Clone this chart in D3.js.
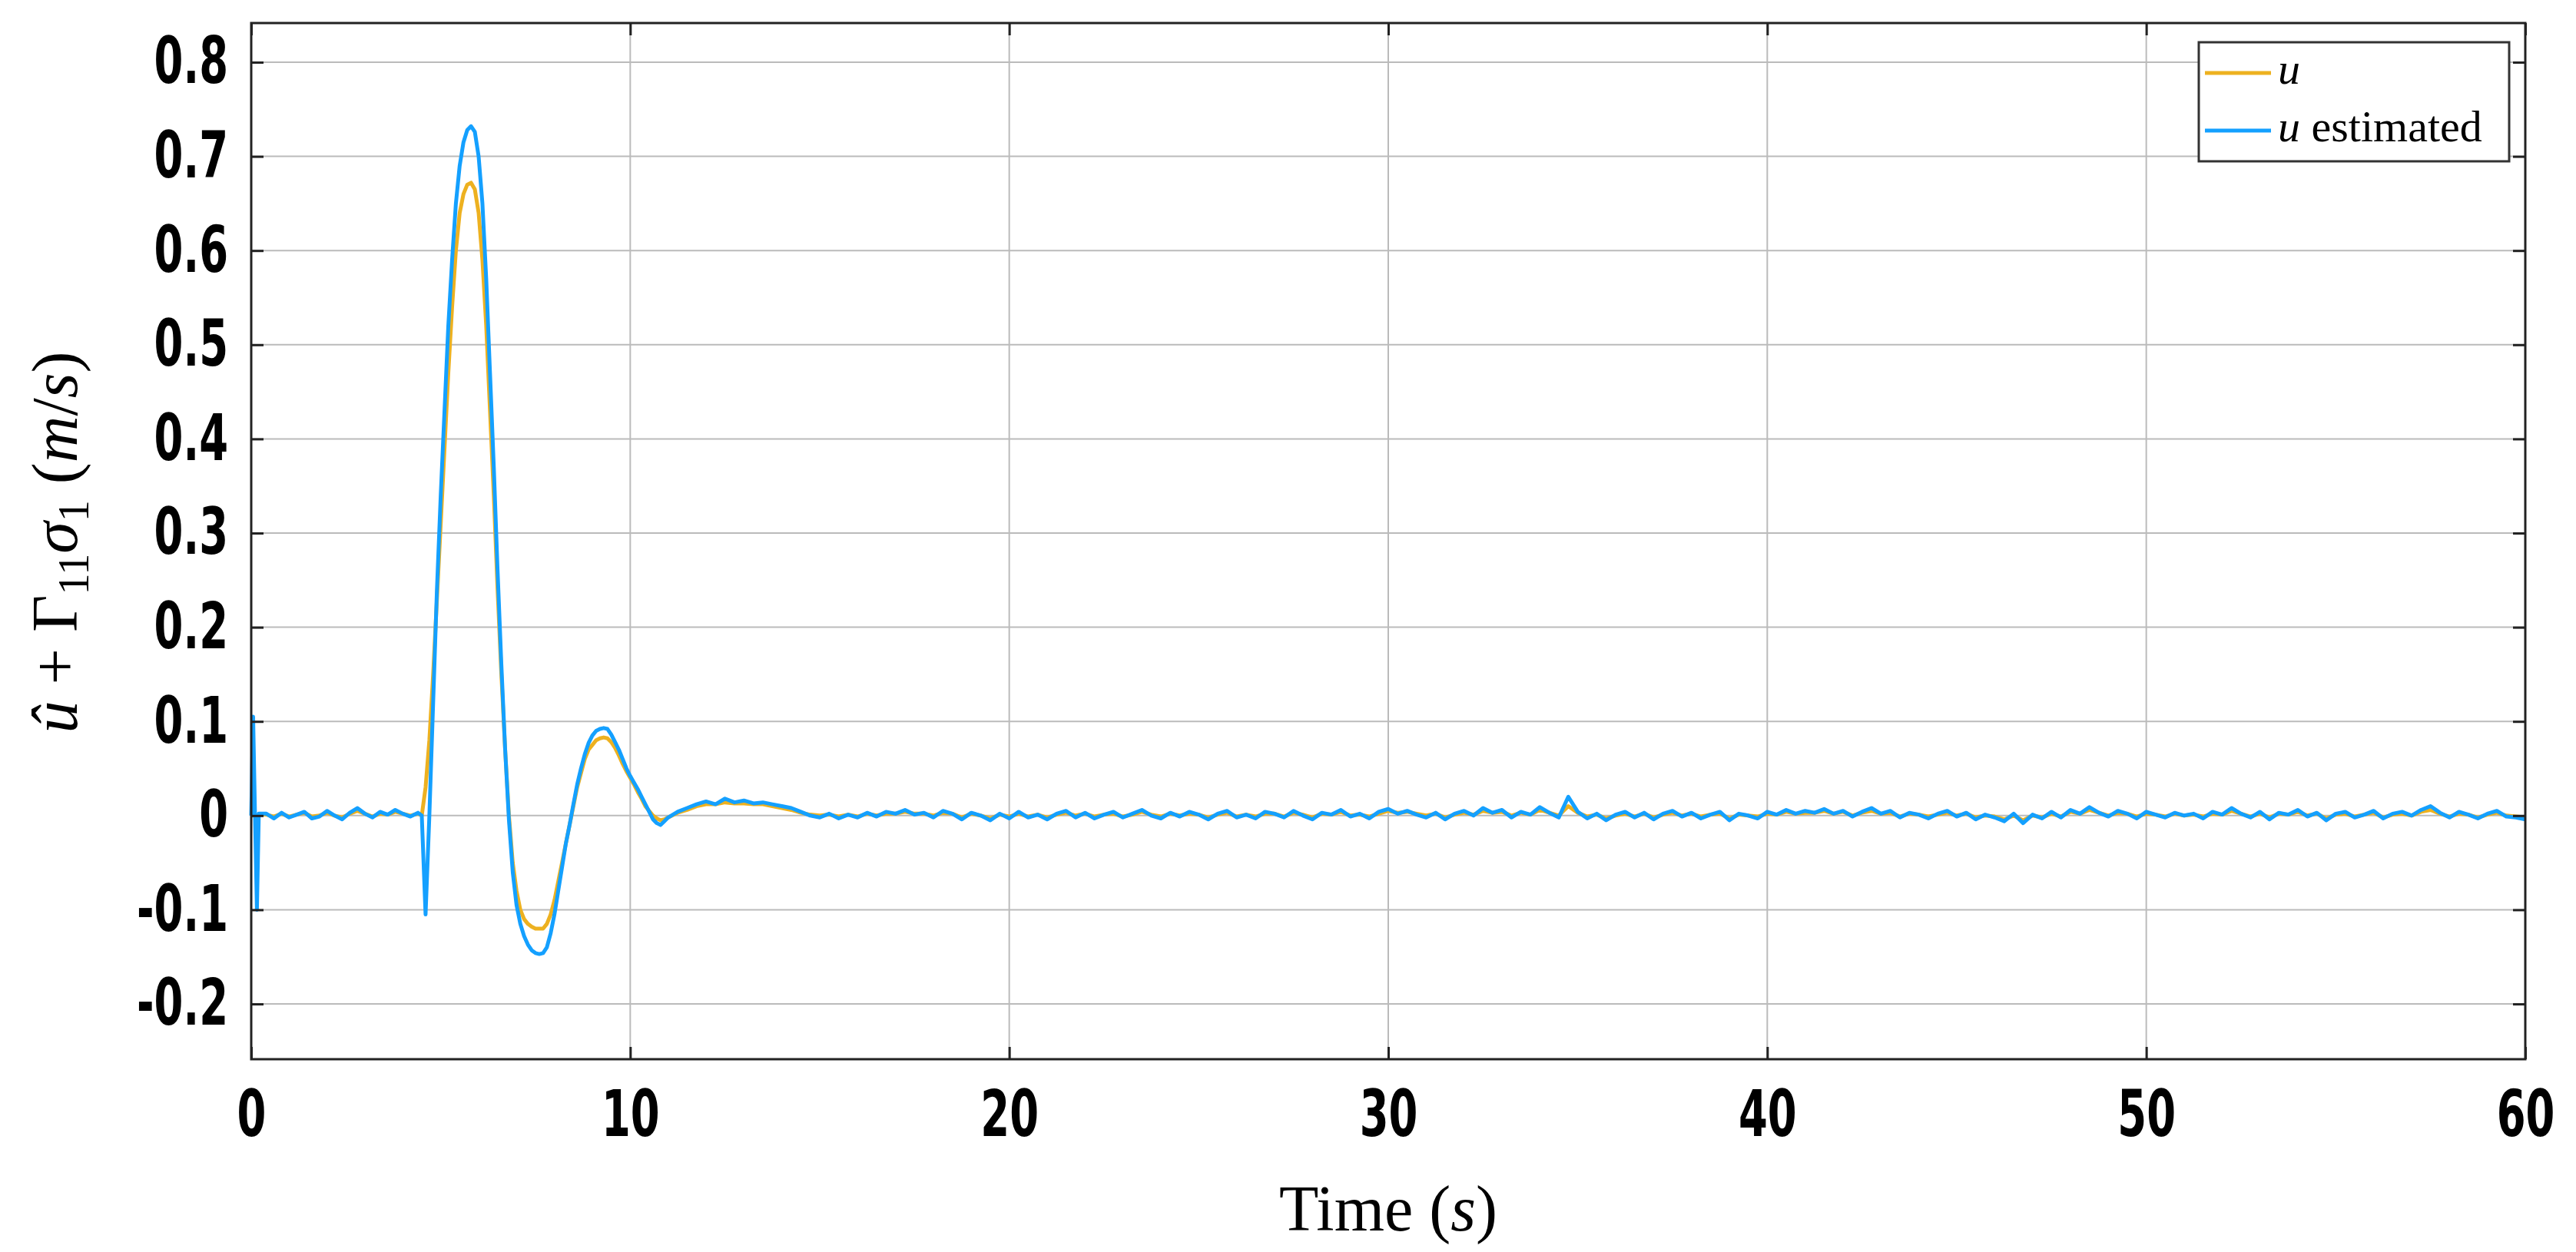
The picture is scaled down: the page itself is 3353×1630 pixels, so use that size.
<!DOCTYPE html>
<html><head><meta charset="utf-8">
<script src="https://cdnjs.cloudflare.com/ajax/libs/d3/7.8.5/d3.min.js"></script>
<style>body{margin:0;background:#fff}</style></head>
<body><svg id="c" width="3353" height="1630"></svg>
<script>
const xTicks=[0,10,20,30,40,50,60];
const yTicks=[-0.2,-0.1,0,0.1,0.2,0.3,0.4,0.5,0.6,0.7,0.8];
const yTickLabels=["-0.2","-0.1","0","0.1","0.2","0.3","0.4","0.5","0.6","0.7","0.8"];
const seriesNames=["u","u estimated"];
const tStart=[0,0.05,0.1,0.15,0.2];
const uStart=[0,0,0,0,0.001];
const ueStart=[0,0.105,0,-0.1,0.002];
const uPre=[.001,-.001,.002,-.001,.001,.003,-.001,.000,.003,.000,-.002,.002,.005,.002,-.001,.002,.001,.004,.002,.000,.002];
const uePre=[.002,-.003,.003,-.002,.001,.004,-.003,-.001,.005,.000,-.004,.003,.008,.002,-.002,.004,.001,.006,.002,-.001,.003];
const uTrans=[0,.03,.08,.15,.23,.31,.39,.47,.54,.60,.64,.66,.67,.672,.665,.64,.59,.52,.43,.34,.24,.15,.07,0,-.05,-.08,-.10,-.11,-.115,-.118,-.12,-.12,-.12,-.115,-.105,-.09,-.07,-.05,-.03,-.01,.01,.03,.045,.06,.07,.075,.08,.082,.083,.082,.078,.072,.064,.055,.047,.04,.033,.025,.018,.01,.005,0,-.003,-.005,-.004,-.002];
const ueTrans=[0,-.105,0,.12,.24,.34,.43,.52,.59,.65,.69,.715,.728,.732,.726,.70,.65,.57,.47,.37,.26,.16,.07,-.005,-.06,-.095,-.115,-.128,-.137,-.143,-.146,-.147,-.146,-.14,-.125,-.105,-.08,-.055,-.03,-.01,.012,.033,.05,.065,.077,.085,.09,.092,.093,.092,.086,.078,.07,.06,.05,.042,.035,.028,.02,.012,.004,-.004,-.008,-.01,-.006,-.002];
const uTail=[.003,.006,.010,.012,.012,.014,.013,.013,.012,.012,.010,.008,.006,.003,.001,.000,.001,-.001,.001,-.001,
.002,.000,.002,.002,.004,.002,.002,.000,.003,.002,-.002,.002,.000,-.003,.001,-.001,.002,-.001,.001,-.002,
.001,.003,.000,.002,-.001,.001,.002,-.001,.001,.004,.001,-.001,.002,.000,.002,.001,-.002,.001,.003,-.001,
.001,-.001,.002,.002,-.001,.003,.001,-.002,.002,.001,.004,.000,.001,-.001,.002,.005,.003,.004,.002,.000,
.002,-.002,.001,.003,.001,.005,.003,.004,.000,.003,.001,.006,.003,.000,.010,.003,-.001,.001,-.003,.000,
.002,-.001,.002,-.002,.001,.003,.000,.002,-.001,.001,.002,-.003,.001,.000,-.001,.002,.001,.004,.002,.003,
.003,.005,.002,.004,.000,.003,.005,.002,.003,-.001,.002,.001,-.001,.001,.003,.000,.002,-.002,.000,-.001,
-.004,.000,-.005,.000,-.002,.002,-.001,.004,.002,.006,.003,.000,.003,.002,-.001,.002,.001,-.001,.002,.000,
.001,-.001,.002,.001,.005,.002,-.001,.002,-.002,.002,.001,.004,.000,.002,-.003,.001,.002,-.001,.001,.003,
-.002,.001,.002,.000,.004,.006,.002,-.001,.002,.001,-.002,.001,.003,.000,-.001,-.002];
const ueTail=[.004,.008,.012,.015,.012,.018,.014,.016,.013,.014,.012,.010,.008,.004,.000,-.002,.002,-.003,.001,-.002,
.003,-.001,.004,.002,.006,.001,.003,-.002,.005,.002,-.004,.003,.000,-.005,.002,-.003,.004,-.002,.001,-.004,
.002,.005,-.002,.003,-.003,.001,.004,-.002,.002,.006,.000,-.003,.003,-.001,.004,.001,-.004,.002,.005,-.002,
.001,-.003,.004,.002,-.002,.005,.000,-.004,.003,.001,.006,-.001,.002,-.003,.004,.007,.002,.005,.001,-.002,
.003,-.004,.002,.005,.000,.008,.003,.006,-.002,.004,.001,.009,.003,-.002,.020,.004,-.003,.002,-.005,.001,
.004,-.002,.003,-.004,.002,.005,-.001,.003,-.003,.001,.004,-.005,.002,.000,-.003,.004,.001,.006,.002,.005,
.003,.007,.002,.005,-.001,.004,.008,.002,.005,-.002,.003,.001,-.003,.002,.005,-.001,.003,-.004,.001,-.002,
-.006,.002,-.008,.001,-.003,.004,-.002,.006,.002,.009,.003,-.001,.005,.002,-.003,.004,.001,-.002,.003,.000,
.002,-.003,.004,.001,.008,.002,-.002,.004,-.004,.003,.001,.006,-.001,.003,-.005,.002,.004,-.002,.001,.005,
-.003,.002,.004,.000,.006,.010,.003,-.002,.004,.001,-.003,.002,.005,-.001,-.002,-.004];

const tPre=uPre.map((d,i)=>+(0.4+0.2*i).toFixed(2));
const tTrans=uTrans.map((d,i)=>+(4.5+0.1*i).toFixed(2));
const tTail=uTail.map((d,i)=>+(11.25+0.25*i).toFixed(2));
const T=[...tStart,...tPre,...tTrans,...tTail];
const U=[...uStart,...uPre,...uTrans,...uTail];
const UE=[...ueStart,...uePre,...ueTrans,...ueTail];

const L=327,R=3287,Tp=30,B=1379;
const x=d3.scaleLinear().domain([0,60]).range([L,R]);
const y=d3.scaleLinear().domain([-0.2587,0.8416]).range([B,Tp]);
const svg=d3.select("#c");
const g=svg.append("g");
g.selectAll(".gx").data(xTicks).enter().append("line").attr("x1",d=>x(d)).attr("x2",d=>x(d)).attr("y1",Tp).attr("y2",B).attr("stroke","#bbb").attr("stroke-width",2);
g.selectAll(".gy").data(yTicks).enter().append("line").attr("y1",d=>y(d)).attr("y2",d=>y(d)).attr("x1",L).attr("x2",R).attr("stroke","#bbb").attr("stroke-width",2);
const line=(arr)=>d3.line().x((d,i)=>x(T[i])).y((d,i)=>y(arr[i]))(arr);
g.append("path").attr("d",line(U)).attr("fill","none").attr("stroke","#EDB120").attr("stroke-width",5).attr("stroke-linejoin","round");
g.append("path").attr("d",line(UE)).attr("fill","none").attr("stroke","#14A0FF").attr("stroke-width",5).attr("stroke-linejoin","round");
const fnt="'DejaVu Sans Condensed','Roboto',sans-serif";
const sx=0.72;
const ax=svg.append("g").attr("transform",`translate(0,${B})`).call(d3.axisBottom(x).tickValues(xTicks).tickSize(-16).tickPadding(40).tickFormat(d3.format("d")));
const ay=svg.append("g").attr("transform",`translate(${L},0)`).call(d3.axisLeft(y).tickValues(yTicks).tickSize(-16).tickPadding(22/sx).tickFormat((d,i)=>yTickLabels[i]));
[ax,ay].forEach(a=>{a.select(".domain").remove();a.selectAll("line").attr("stroke","#222").attr("stroke-width",3);
 a.selectAll("text").attr("font-family",fnt).attr("font-weight","bold").attr("font-size",84).attr("fill","#000").attr("transform",`scale(${sx},1)`);});
ay.selectAll("text").attr("x",-30/sx);
svg.append("g").attr("transform",`translate(${R},0)`).call(d3.axisRight(y).tickValues(yTicks).tickSize(-16).tickFormat("")).call(a=>{a.select(".domain").remove();a.selectAll("line").attr("stroke","#222").attr("stroke-width",3);});
svg.append("g").attr("transform",`translate(0,${Tp})`).call(d3.axisTop(x).tickValues(xTicks).tickSize(-16).tickFormat("")).call(a=>{a.select(".domain").remove();a.selectAll("line").attr("stroke","#222").attr("stroke-width",3);});
svg.append("rect").attr("x",L).attr("y",Tp).attr("width",R-L).attr("height",B-Tp).attr("fill","none").attr("stroke","#222").attr("stroke-width",3);
const serif="'Liberation Serif','DejaVu Serif',serif";
svg.append("text").attr("x",(L+R)/2).attr("y",1602).attr("text-anchor","middle").attr("font-family",serif).attr("font-size",84)
 .html("Time (<tspan font-style='italic'>s</tspan>)");
svg.append("text").attr("transform","translate(100,706) rotate(-90)").attr("text-anchor","middle").attr("font-family",serif).attr("font-size",84)
 .html("<tspan font-style='italic'>û</tspan> + Γ<tspan font-size='56' dy='15'>11</tspan><tspan dy='-15' font-style='italic'>σ</tspan><tspan font-size='56' dy='15'>1</tspan><tspan dy='-15'> (</tspan><tspan font-style='italic'>m</tspan>/<tspan font-style='italic'>s</tspan>)");
const lg=svg.append("g");
lg.append("rect").attr("x",2862).attr("y",55).attr("width",404).attr("height",155).attr("fill","#fff").attr("stroke","#333").attr("stroke-width",3);
const cols=["#EDB120","#14A0FF"],ly=[95,170];
seriesNames.forEach((n,i)=>{
 lg.append("line").attr("x1",2870).attr("x2",2956).attr("y1",ly[i]).attr("y2",ly[i]).attr("stroke",cols[i]).attr("stroke-width",5);
 const t=lg.append("text").attr("x",2965).attr("y",ly[i]+14).attr("font-family",serif).attr("font-size",58);
 t.append("tspan").attr("font-style","italic").text("u");
 if(n.length>1) t.append("tspan").text(n.slice(1));
});
</script></body></html>
